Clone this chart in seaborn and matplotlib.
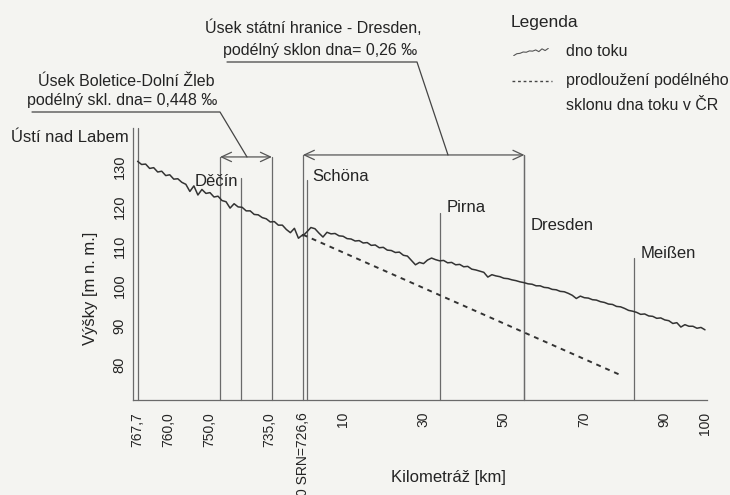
import numpy as np
import pandas as pd
import matplotlib
matplotlib.use("Agg")
import matplotlib.pyplot as plt
from matplotlib.lines import Line2D
import seaborn as sns

# ---------------- data ----------------
# Czech section: chainage (km, Elbe CZ) and river-bed elevation (m a.s.l.)
cz_chainage = [767.7, 766.7, 765.7, 764.7, 763.7, 762.7, 761.7, 760.7, 759.7, 758.7,
               757.7, 756.7, 755.7, 754.7, 753.7, 752.7, 751.7, 750.7, 749.7, 748.7,
               747.7, 746.7, 745.7, 744.7, 743.7, 742.7, 741.7, 740.7, 739.7, 738.7,
               737.7, 736.7, 735.7, 734.7, 733.7, 732.7, 731.7, 730.7, 729.7, 728.7,
               727.7, 726.6]
cz_elev = [131.4, 130.6, 130.7, 129.6, 129.8, 128.7, 128.9, 127.8, 128.0, 126.9,
           127.0, 126.1, 125.6, 123.8, 125.2, 122.9, 124.3, 123.3, 123.5, 122.4,
           122.6, 121.5, 121.2, 119.6, 120.7, 119.9, 119.8, 118.9, 118.9, 118.0,
           117.9, 117.2, 116.9, 116.1, 116.2, 115.3, 115.3, 114.2, 113.4, 114.5,
           112.0, 112.9]
# German section: chainage (km, Elbe DE) and river-bed elevation
de_chainage = list(range(0, 101))
de_elev = [112.6, 113.6, 114.7, 114.4, 113.3, 112.3, 113.5, 113.1, 113.2, 112.6,
           112.5, 111.9, 111.8, 111.3, 111.4, 110.8, 110.9, 110.2, 110.3, 109.6,
           109.7, 109.0, 108.9, 108.4, 108.5, 107.7, 107.5, 106.4, 105.3, 105.9,
           105.6, 106.5, 107.0, 106.6, 106.3, 106.4, 105.8, 105.9, 105.3, 105.4,
           104.8, 104.9, 104.2, 104.0, 103.7, 103.4, 102.2, 102.8, 102.5, 102.3,
           101.9, 101.8, 101.5, 101.3, 101.0, 100.8, 100.5, 100.4, 100.0, 100.0,
           99.6, 99.5, 99.1, 99.0, 98.6, 98.5, 98.1, 97.6, 96.8, 97.4,
           97.0, 96.9, 96.5, 96.4, 96.0, 95.8, 95.4, 95.3, 94.8, 94.7,
           94.3, 93.8, 93.6, 93.3, 92.8, 92.9, 92.4, 92.3, 91.8, 91.9,
           91.4, 91.2, 90.5, 90.7, 89.6, 90.2, 89.8, 89.8, 89.3, 89.5,
           88.9]
# extension of the Czech bed slope (0.448 per mille) into Germany (DE km, elevation)
ext_de_chainage = [0.0, 79.2]
ext_elev = [112.9, 77.4]

# places: (name, section, chainage, top elevation of marker line)
place_names = ["Ústí nad Labem", "Děčín", "Schöna", "Pirna", "Dresden", "Meißen"]
place_section = ["CZ", "CZ", "DE", "DE", "DE", "DE"]
place_chainage = [767.7, 742.0, 1.1, 34.1, 55.1, 82.4]
place_top = [139.8, 127.2, 126.7, 118.4, 133.0, 107.0]

# slope sections (start/end chainage)
sec1 = ("CZ", 747.2, "CZ", 734.3)   # Boletice - Dolní Žleb
sec2 = ("CZ", 726.6, "DE", 55.1)    # state border - Dresden

cz_tick_values = [767.7, 760.0, 750.0, 735.0, 726.6]
cz_tick_labels = ["767,7", "760,0", "750,0", "735,0", "0 SRN=726,6"]
de_tick_values = [10, 30, 50, 70, 90, 100]
de_tick_labels = ["10", "30", "50", "70", "90", "100"]
de_minor_values = [20, 40, 60, 80]
y_ticks = [80, 90, 100, 110, 120, 130]

CZ_START = 767.7
BORDER = 726.6


def dist(section, km):
    """Distance (km) along the river from Ústí nad Labem."""
    if section == "CZ":
        return CZ_START - km
    return (CZ_START - BORDER) + km


# ---------------- style ----------------
sns.set_theme(style="white")
plt.rcParams["font.family"] = ["Liberation Sans", "DejaVu Sans"]
BG = "#f4f4f1"
INK = "#242424"
GREY = "#6a6a6a"

W, H = 730, 495
fig = plt.figure(figsize=(W / 100, H / 100), dpi=100, facecolor=BG)


def fx(x):
    return x / W


def fy(y):
    return 1 - y / H


ax = fig.add_axes([fx(133), fy(400), (707 - 133) / W, (400 - 128) / H])
ax.set_facecolor(BG)

# river bed
bed = pd.DataFrame({
    "dist": [dist("CZ", k) for k in cz_chainage] + [dist("DE", k) for k in de_chainage],
    "elev": cz_elev + de_elev,
})
sns.lineplot(data=bed, x="dist", y="elev", ax=ax, color="#333333", lw=1.1,
             estimator=None, sort=False)

# dashed extension
ext = pd.DataFrame({"dist": [dist("DE", k) for k in ext_de_chainage], "elev": ext_elev})
sns.lineplot(data=ext, x="dist", y="elev", ax=ax, color="#333333", lw=1.4,
             estimator=None, dashes=False, linestyle=(0, (2.5, 2.5)))

XL = (-1.14, 141.6)
YL = (71.2, 139.8)
ax.set_xlim(*XL)
ax.set_ylim(*YL)

# place marker lines
for sec, km, top in zip(place_section, place_chainage, place_top):
    ax.plot([dist(sec, km)] * 2, [YL[0], top], color=GREY, lw=0.9, clip_on=False, zorder=1)

# section bracket lines and arrows
br_y = [132.5, 133.0]
for (s0, k0, s1, k1), yy in zip([sec1, sec2], br_y):
    x0, x1 = dist(s0, k0), dist(s1, k1)
    for xv in (x0, x1):
        ax.plot([xv, xv], [YL[0], yy], color=GREY, lw=0.9, clip_on=False, zorder=1)
    ax.annotate("", xy=(x1, yy), xytext=(x0, yy), annotation_clip=False,
                arrowprops=dict(arrowstyle="<->,head_length=0.6,head_width=0.28",
                                color="#555555", lw=0.9, shrinkA=0, shrinkB=0))

# ticks
xt = [dist("CZ", v) for v in cz_tick_values] + [dist("DE", v) for v in de_tick_values]
ax.set_xticks(xt)
ax.set_xticklabels(cz_tick_labels + de_tick_labels, rotation=90, fontsize=10, color=INK)
ax.set_xticks([dist("DE", v) for v in de_minor_values], minor=True)
ax.set_yticks(y_ticks)
ax.set_yticklabels([str(v) for v in y_ticks], rotation=90, va="center", fontsize=10.5,
                   color=INK)
ax.tick_params(axis="both", which="both", direction="out", length=2.5, width=0.8,
               color="#777777", pad=3)
ax.tick_params(axis="x", which="major", pad=6)
ax.tick_params(axis="y", which="major", pad=2)

for side in ("top", "right"):
    ax.spines[side].set_visible(False)
for side in ("left", "bottom"):
    ax.spines[side].set_color("#6a6a6a")
    ax.spines[side].set_linewidth(0.9)
ax.grid(False)

ax.set_xlabel("Kilometráž [km]", fontsize=12, color=INK)
ax.set_ylabel("Výšky [m n. m.]", fontsize=12, color=INK)
ax.xaxis.set_label_coords((448 - 133) / 574, -(470 - 400) / 272)
ax.yaxis.set_label_coords((98 - 133) / 574, (400 - 288) / 272)

# place labels
lab_pos = {"Ústí nad Labem": (129, 138, "right"), "Děčín": (238, 181, "right"),
           "Schöna": (312, 176, "left"), "Pirna": (447, 208, "left"),
           "Dresden": (531, 226, "left"), "Meißen": (641, 253, "left")}
for name in place_names:
    x, y, ha = lab_pos[name]
    fig.text(fx(x), fy(y), name, ha=ha, va="center", fontsize=12, color=INK)

# section annotations
fig.text(fx(313), fy(28), "Úsek státní hranice - Dresden,", ha="center", va="center",
         fontsize=11.5, color=INK)
fig.text(fx(320), fy(50), "podélný sklon dna= 0,26 ‰", ha="center", va="center",
         fontsize=11.5, color=INK)
fig.text(fx(215), fy(82), "Úsek Boletice-Dolní Žleb", ha="right", va="center",
         fontsize=11.5, color=INK)
fig.text(fx(217), fy(100), "podélný skl. dna= 0,448 ‰", ha="right", va="center",
         fontsize=11.5, color=INK)


def fline(xs, ys, **kw):
    fig.add_artist(Line2D([fx(x) for x in xs], [fy(y) for y in ys],
                          transform=fig.transFigure, **kw))


fline([32, 220, 247], [112, 112, 157], color="#444444", lw=0.9)
fline([227, 417, 448], [62, 62, 155], color="#444444", lw=0.9)

# legend
fig.text(fx(511), fy(22), "Legenda", ha="left", va="center", fontsize=12.5, color=INK)
fig.text(fx(566), fy(52), "dno toku", ha="left", va="center", fontsize=11.5, color=INK)
fig.text(fx(566), fy(80), "prodloužení podélného", ha="left", va="center",
         fontsize=11.5, color=INK)
fig.text(fx(566), fy(106), "sklonu dna toku v ČR", ha="left", va="center",
         fontsize=11.5, color=INK)
lax = fig.add_axes([fx(512), fy(56), 38 / W, 8 / H])
lax.plot(range(12), cz_elev[12:24][::-1], color="#555555", lw=0.8)
lax.axis("off")
fline([512, 552], [81, 81], color="#444444", lw=1.0, linestyle=(0, (2.0, 2.0)))

fig.savefig("out.png", dpi=100, facecolor=BG)
